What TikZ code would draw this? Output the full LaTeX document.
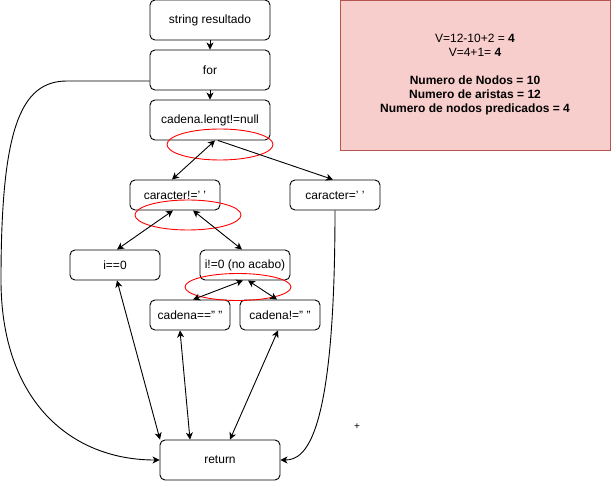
\documentclass[tikz,border=0pt]{standalone}
\usepackage{fontspec}
\setmainfont{Liberation Sans}
\usetikzlibrary{shapes.geometric,arrows.meta}
\definecolor{notefill}{HTML}{F8CECC}
\definecolor{noteline}{HTML}{B85450}
\begin{document}
\begin{tikzpicture}[x=1pt,y=-1pt,
  line width=0.9pt,
  box/.style={draw=black,fill=white,rounded corners=5pt,inner sep=0pt,
    font=\fontsize{12}{14}\selectfont},
  bigbox/.style={box,minimum width=120pt,minimum height=40pt},
  smallbox/.style={box,minimum width=90pt,minimum height=30pt},
  tinybox/.style={box,minimum width=80pt,minimum height=30pt},
  mark ring/.style={draw=red,ellipse,inner sep=0pt},
  tip/.style={-{Stealth[length=7pt,width=7pt,inset=2pt]}},
  both/.style={{Stealth[length=7pt,width=7pt,inset=2pt]}-{Stealth[length=7pt,width=7pt,inset=2pt]}}]
\useasboundingbox (0,0) rectangle (611,481);

% summary note
\node[draw=noteline,fill=notefill,minimum width=270pt,minimum height=150pt,
  inner sep=0pt,align=center,font=\fontsize{12}{14}\selectfont] (note) at (475,75)
  {V=12-10+2 = \textbf{4}\\V=4+1= \textbf{4}\\[14pt]
   \textbf{Numero de Nodos = 10}\\
   \textbf{Numero de aristas = 12}\\
   \textbf{Numero de nodos predicados = 4}};

% flow nodes
\node[bigbox] (sr) at (210,20) {string resultado};
\node[bigbox] (for) at (210,70) {for};
\node[bigbox] (cad) at (210,120) {cadena.lengt!=null};
\node[smallbox] (cne) at (175,195) {caracter!=' '};
\node[smallbox] (ceq) at (335,195) {caracter=' '};
\node[smallbox] (izero) at (115,265) {i==0};
\node[smallbox] (inz) at (245,265) {i!=0 (no acabo)};
\node[tinybox] (cdeq) at (190,315) {cadena==" "};
\node[tinybox] (cdne) at (280,315) {cadena!=" "};
\node[bigbox] (ret) at (220,460) {return};

% predicate rings
\node[mark ring,minimum width=106pt,minimum height=31pt] (r1) at (220,144.5) {};
\node[mark ring,minimum width=106pt,minimum height=30pt] (r2) at (188,215) {};
\node[mark ring,minimum width=106pt,minimum height=27pt] (r3) at (238,287) {};

\node[font=\fontsize{10}{11}\selectfont,inner sep=0pt] (plus) at (357,427) {+};

% connectors
\draw[tip] (sr.south) -- (for.north);
\draw[tip] (for.south) -- (cad.north);
\draw[tip] ([yshift=-11pt]for.west) -- (67,81)
  .. controls (20,81) and (1,130) .. (1,280)
  .. controls (1,400) and (70,460) .. (ret.west);
\draw[both] ([xshift=5pt]cad.south) -- ([xshift=-3pt]cne.north);
\draw[tip] ([xshift=8pt]cad.south) -- ([xshift=-2pt]ceq.north);
\draw[both] ([xshift=-2pt]cne.south) -- ([xshift=2pt]izero.north);
\draw[both] ([xshift=18pt]cne.south) -- ([xshift=-3pt]inz.north);
\draw[both] ([xshift=-2pt]inz.south) -- ([xshift=3pt]cdeq.north);
\draw[both] ([xshift=3pt]inz.south) -- ([xshift=-3pt]cdne.north);
\draw[both] ([xshift=2pt]izero.south) -- ([xshift=-60pt]ret.north);
\draw[both] ([xshift=-10pt]cdeq.south) -- ([xshift=-30pt]ret.north);
\draw[both] ([xshift=-2pt]cdne.south) -- ([xshift=10pt]ret.north);
\draw[tip] (ceq.south) .. controls (335,440) and (305,460) .. (ret.east);
\end{tikzpicture}
\end{document}
